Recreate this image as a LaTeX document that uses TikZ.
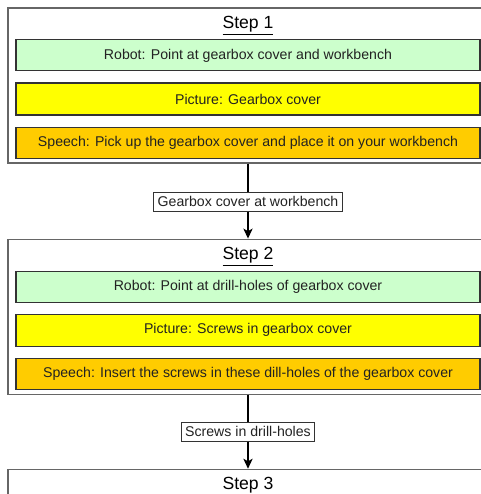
\documentclass[tikz,border=0pt]{standalone}
\usepackage{fontspec}
\setmainfont{Liberation Sans}
\usetikzlibrary{positioning,arrows.meta}
\definecolor{robotgreen}{HTML}{CCFFCC}
\definecolor{pictureyellow}{HTML}{FFFF00}
\definecolor{speechorange}{HTML}{FFCC00}
\definecolor{inktext}{HTML}{222222}
\tikzset{
  stepframe/.style={draw=black!60, line width=0.9pt, minimum width=360pt, minimum height=116.25pt, inner sep=0pt},
  steptitle/.style={font=\fontsize{13.2}{15}\selectfont, text=black, inner sep=0pt},
  actbox/.style={draw=black!80, line width=0.8pt, minimum width=348pt, minimum height=23.25pt, inner sep=0pt, text=inktext, font=\fontsize{10.6}{12.7}\selectfont},
  robotbox/.style={actbox, fill=robotgreen},
  picturebox/.style={actbox, fill=pictureyellow, minimum height=24pt},
  speechbox/.style={actbox, fill=speechorange},
  statelabel/.style={draw=black!80, line width=0.7pt, fill=white, text=inktext, inner xsep=3pt, inner ysep=0pt, minimum height=14.25pt, font=\fontsize{10.6}{12.7}\selectfont},
  flow/.style={line width=0.8pt, black}
}
\begin{document}
\begin{tikzpicture}[x=0.75pt, y=-0.75pt]
            \useasboundingbox (0,0) rectangle (481,494);
            \clip (0,0) rectangle (481,494);
            \node[stepframe] (f1) at (248,85.5) {};
            \node[steptitle] (t1) at ([yshift=-13.5pt]f1.north) {\underline{Step 1}};
            \node[robotbox, anchor=north] (r1) at ([yshift=-24pt]f1.north) {Robot: Point at gearbox cover and workbench};
            \node[picturebox, below=8.25pt of r1] (p1) {Picture: Gearbox cover};
            \node[speechbox, below=8.25pt of p1] (s1) {Speech: Pick up the gearbox cover and place it on your workbench};
            \node[statelabel, below=21pt of f1] (l1) {Gearbox cover at workbench};
            \node[stepframe, below=20.25pt of l1] (f2) {};
            \node[steptitle] (t2) at ([yshift=-13.5pt]f2.north) {\underline{Step 2}};
            \node[robotbox, anchor=north] (r2) at ([yshift=-24pt]f2.north) {Robot: Point at drill-holes of gearbox cover};
            \node[picturebox, below=8.25pt of r2] (p2) {Picture: Screws in gearbox cover};
            \node[speechbox, below=8.25pt of p2] (s2) {Speech: Insert the screws in these dill-holes of the gearbox cover};
            \node[statelabel, below=20.25pt of f2] (l2) {Screws in drill-holes};
            \node[stepframe, below=20.25pt of l2] (f3) {};
            \node[steptitle] (t3) at ([yshift=-13.5pt]f3.north) {\underline{Step 3}};
            \draw[flow] (f1) -- (l1);
            \draw[flow, -{Stealth[length=7.5pt, width=7pt, inset=2pt]}] (l1) -- (f2);
            \draw[flow] (f2) -- (l2);
            \draw[flow, -{Stealth[length=7.5pt, width=7pt, inset=2pt]}] (l2) -- (f3);
\end{tikzpicture}
\end{document}
